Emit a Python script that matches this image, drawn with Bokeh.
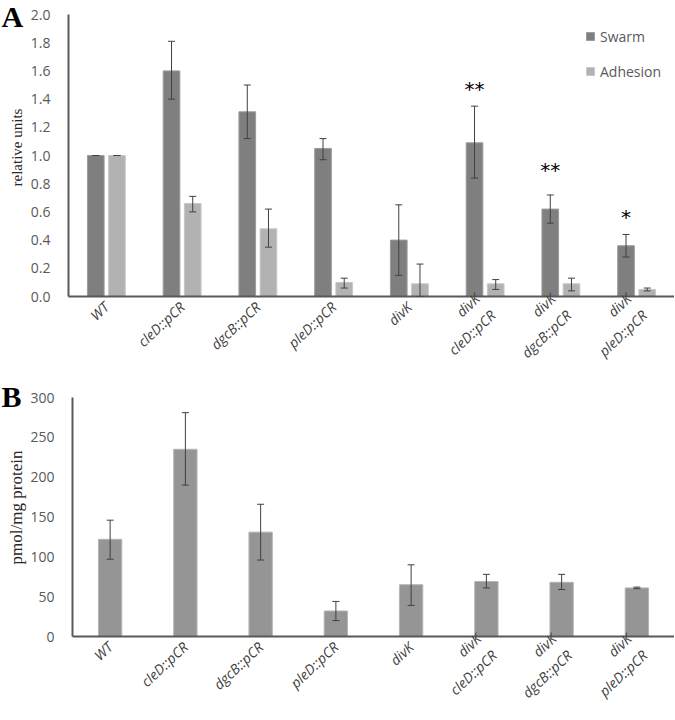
import math
from bokeh.plotting import figure
from bokeh.models import (ColumnDataSource, Whisker, Legend, LegendItem,
                          FactorRange, Range1d, FixedTicker, CustomJSTickFormatter)
from bokeh.transform import dodge
from bokeh.layouts import column, row
from bokeh.core.properties import value
from bokeh.embed import file_html
from bokeh.resources import INLINE

# ---------------- data ----------------
strains = ["WT", "cleD::pCR", "dgcB::pCR", "pleD::pCR", "divK",
           "divK\ncleD::pCR", "divK\ndgcB::pCR", "divK\npleD::pCR"]
swarm = [1.00, 1.60, 1.31, 1.05, 0.40, 1.09, 0.62, 0.36]
swarm_lo = [1.00, 1.40, 1.12, 0.97, 0.15, 0.84, 0.52, 0.28]
swarm_hi = [1.00, 1.81, 1.50, 1.12, 0.65, 1.35, 0.72, 0.44]
adhesion = [1.00, 0.66, 0.48, 0.10, 0.09, 0.09, 0.09, 0.05]
adhesion_lo = [1.00, 0.60, 0.35, 0.06, 0.00, 0.05, 0.04, 0.04]
adhesion_hi = [1.00, 0.71, 0.62, 0.13, 0.23, 0.12, 0.13, 0.06]
sig_strains = ["divK\ncleD::pCR", "divK\ndgcB::pCR", "divK\npleD::pCR"]
sig_marks = ["**", "**", "*"]
sig_y = [1.47, 0.90, 0.565]

cdg = [122, 235, 131, 32, 65, 69, 68, 61]
cdg_lo = [97, 190, 96, 20, 39, 61, 59, 60]
cdg_hi = [146, 281, 166, 44, 90, 78, 78, 62]

TICK_FONT = "Open Sans"
TICK_COLOR = "#595959"
AXIS_COLOR = "#595959"
SIDE_W = 27          # width of the strip that holds the panel letter and y title
HA, HB = 379, 340    # figure heights


def style(p):
    p.outline_line_color = None
    p.xgrid.grid_line_color = None
    p.ygrid.grid_line_color = None
    for ax in (p.xaxis[0], p.yaxis[0]):
        ax.major_tick_line_color = None
        ax.minor_tick_line_color = None
        ax.axis_line_color = AXIS_COLOR
        ax.axis_line_width = 2
        ax.major_label_text_font = TICK_FONT
        ax.major_label_text_font_size = "14px"
        ax.major_label_text_color = TICK_COLOR
    p.xaxis.major_label_orientation = 0.75
    p.xaxis.major_label_text_font_style = "italic"
    p.xaxis.major_label_standoff = 2
    p.xaxis.major_label_text_color = "#404040"
    p.yaxis.major_label_standoff = 12


def whisker(p, base, lo, hi, src):
    w = Whisker(base=base, lower=lo, upper=hi, source=src,
                line_color="#404040", line_width=1, level="annotation")
    for h in (w.upper_head, w.lower_head):
        h.size = 7
        h.line_color = "#404040"
    p.add_layout(w)


def side(height, letter, letter_size, letter_mid, title, title_size, title_center):
    # narrow plot whose frame fills the figure; y is measured in px from its top
    s = figure(width=SIDE_W, height=height, x_range=Range1d(0, SIDE_W),
               y_range=Range1d(height, 0), x_axis_type=None, y_axis_type=None,
               title=None, output_backend="svg", toolbar_location=None,
               min_border_left=0, min_border_right=0, min_border_top=0,
               min_border_bottom=0)
    s.frame_align = False
    s.outline_line_color = None
    s.grid.visible = False
    s.text(x=[1], y=[letter_mid], text=[letter], text_align="left",
           text_baseline="middle", text_font=value("Liberation Serif"),
           text_font_style="bold", text_font_size=letter_size, text_color="black")
    s.text(x=[16], y=[title_center], text=[title], angle=math.pi / 2,
           text_align="center", text_baseline="middle",
           text_font=value("Liberation Serif"), text_font_size=title_size,
           text_color="#262626")
    return s


# ---------------- panel A ----------------
srcA = ColumnDataSource(dict(x=strains, swarm=swarm, slo=swarm_lo, shi=swarm_hi,
                             adh=adhesion, alo=adhesion_lo, ahi=adhesion_hi))
pA = figure(x_range=FactorRange(*strains), y_range=Range1d(0, 2.0),
            width=675 - 1 - SIDE_W, height=HA, output_backend="svg",
            toolbar_location=None, min_border_left=40, min_border_right=0,
            min_border_top=14, min_border_bottom=10)
pA.frame_align = False
style(pA)
pA.yaxis.ticker = FixedTicker(ticks=[0, 0.2, 0.4, 0.6, 0.8, 1.0, 1.2, 1.4, 1.6, 1.8, 2.0])
pA.yaxis.formatter = CustomJSTickFormatter(code="return tick.toFixed(1);")

rs = pA.vbar(x=dodge("x", -0.14, range=pA.x_range), top="swarm", width=0.22,
             source=srcA, fill_color="#7f7f7f", line_color="#9c9c9c", line_width=1)
ra = pA.vbar(x=dodge("x", 0.14, range=pA.x_range), top="adh", width=0.22,
             source=srcA, fill_color="#b2b2b2", line_color="#c8c8c8", line_width=1)
whisker(pA, dodge("x", -0.14, range=pA.x_range), "slo", "shi", srcA)
whisker(pA, dodge("x", 0.14, range=pA.x_range), "alo", "ahi", srcA)

srcS = ColumnDataSource(dict(x=sig_strains, y=sig_y, t=sig_marks))
pA.text(x=dodge("x", -0.14, range=pA.x_range), y="y", text="t", source=srcS,
        text_align="center", text_baseline="middle", text_font_size="20px",
        text_font=value("DejaVu Sans"), text_color="black")

legend = Legend(items=[LegendItem(label="Swarm", renderers=[rs]),
                       LegendItem(label="Adhesion", renderers=[ra])],
                location=(517, 215), border_line_color=None,
                background_fill_alpha=0, label_text_font=TICK_FONT,
                label_text_font_size="14px", label_text_color=TICK_COLOR,
                glyph_width=10, glyph_height=10, spacing=15, margin=0, padding=0,
                label_standoff=5, label_height=20)
pA.add_layout(legend)

sideA = side(HA, "A", "30px", 16, "relative units", "15px", 147)

# ---------------- panel B ----------------
srcB = ColumnDataSource(dict(x=strains, v=cdg, lo=cdg_lo, hi=cdg_hi))
pB = figure(x_range=FactorRange(*strains), y_range=Range1d(0, 300),
            width=675 - 1 - SIDE_W, height=HB, output_backend="svg",
            toolbar_location=None, min_border_left=40, min_border_right=0,
            min_border_top=18, min_border_bottom=10)
pB.frame_align = False
style(pB)
pB.yaxis.ticker = FixedTicker(ticks=[0, 50, 100, 150, 200, 250, 300])
pB.vbar(x="x", top="v", width=0.31, source=srcB, fill_color="#959595",
        line_color="#b5b5b5", line_width=1)
whisker(pB, "x", "lo", "hi", srcB)

sideB = side(HB, "B", "30px", 17, "pmol/mg protein", "17px", 128)

layout = column(row(sideA, pA, spacing=0), row(sideB, pB, spacing=0), spacing=0)
open("out.html", "w").write(file_html(layout, INLINE))
